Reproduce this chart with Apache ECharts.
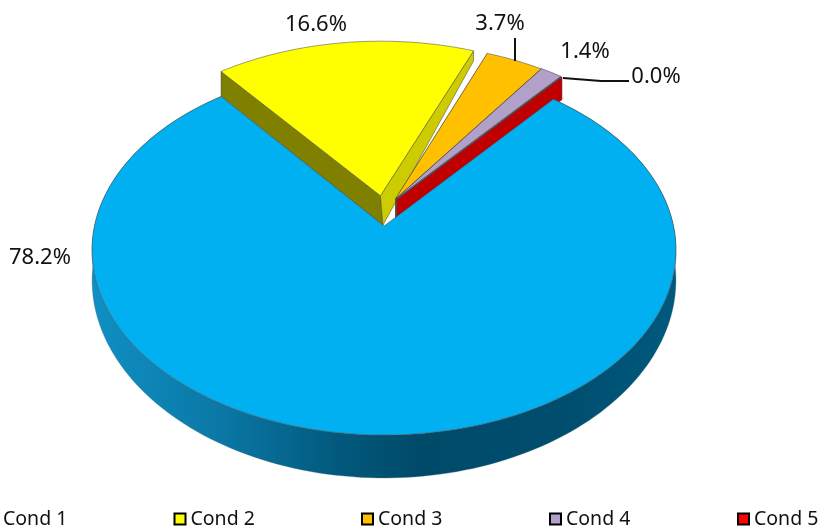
<!DOCTYPE html>
<html><head><meta charset="utf-8">
<style>html,body{margin:0;padding:0;background:#fff}#c{width:820px;height:532px}</style>
<script src="https://cdn.jsdelivr.net/npm/echarts@6/dist/echarts.min.js"></script>
</head><body><div id="c"></div>
<script>
const categories = ['Cond 1','Cond 2','Cond 3','Cond 4','Cond 5'];
const values = [78.2,16.6,3.7,1.4,0.04];
const topColors = ['#00B0F0','#FFFF00','#FFC000','#B1A0C7','#FF0000'];
const wallColors = [null,'#CCCC00','#A07E00','#7F6F9A','#C00000'];
const startWallColors = [null,'#7F7F00','#A07E00','#7F6F9A','#C00000'];
const labelPos = [[40,258],[316,25],[500,24],[585,52],[656,77]];
const leaders = [null,null,[[515,38],[515,61]],null,[[563,78],[601,81],[629,81]]];
const legendLeft = [-14,173.5,361,549,737];
const explodeU = [0,0.086,0.086,0.07,0.07];
const explodeV = [0,0.172,0.172,0.193,0.193];

const FONT = '"Noto Sans",sans-serif', FS = 22;
const CX=384, CY=226, A=181.9, B=289.5, K=0.1297, START=40;
const total = values.reduce((a,b)=>a+b,0);
const rad = d=>d*Math.PI/180;
function proj(u,v){const w=1+K*v;return [CX+B*u/w, CY-A*v/w];}
const thick = v=>29/(1+0.325*v);
let acc=START;
const spans = values.map(v=>{const s=acc;acc+=v/total*360;return [s,acc];});

function sliceShapes(i){
  const [s,e]=spans[i], mid=(s+e)/2;
  const u0 = explodeU[i]*Math.sin(rad(mid));
  const v0 = explodeV[i]*Math.cos(rad(mid));
  const P=(d,off)=>{const u=u0+Math.sin(rad(d)),v=v0+Math.cos(rad(d));const p=proj(u,v);return [p[0],p[1]+(off?thick(v):0)];};
  const apex=proj(u0,v0), apexB=[apex[0],apex[1]+thick(v0)];
  const n=Math.max(4,Math.ceil((e-s)/1.5));
  const arc=[],arcB=[];
  for(let j=0;j<=n;j++){const d=s+(e-s)*j/n;arc.push(P(d,false));arcB.push(P(d,true));}
  const ch=[];
  const edge='rgba(70,70,70,0.75)';
  if(i===0){
    ch.push({type:'polygon',shape:{points:arc.concat(arcB.slice().reverse())},style:{
      fill:{type:'linear',x:92,y:0,x2:676,y2:0,global:true,colorStops:[
        {offset:0,color:'#0F8FC4'},{offset:0.22,color:'#0A78A6'},{offset:0.42,color:'#02597D'},
        {offset:0.56,color:'#004A69'},{offset:0.8,color:'#004D6E'},{offset:1,color:'#005A7E'}]},
      stroke:'rgba(90,110,120,0.5)',lineWidth:0.6}});
  } else {
    const rs=P(s,false), re=P(e,false);
    let rsB=P(s,true), reB=P(e,true), aB=apexB;
    if(i===1){ reB=[re[0],re[1]+10]; rsB=[rs[0],rsB[1]+3]; aB=[apexB[0]+2.5,apexB[1]+2]; }
    ch.push({type:'polygon',shape:{points:[apex,rs,rsB,aB]},style:{fill:startWallColors[i],stroke:edge,lineWidth:0.7}});
    ch.push({type:'polygon',shape:{points:[apex,re,reB,aB]},style:{fill:wallColors[i],stroke:edge,lineWidth:0.7}});
  }
  ch.push({type:'polygon',shape:{points:[apex].concat(arc)},style:{fill:i===4?wallColors[4]:topColors[i],stroke:edge,lineWidth:0.7}});
  return ch;
}

const series = categories.map((name,i)=>({
  name, type:'custom', coordinateSystem:'none', z:i===0?6:1+i, silent:true,
  itemStyle:{color:topColors[i]},
  data:[[values[i]]],
  renderItem:()=>({type:'group',children:sliceShapes(i)})
}));
series.push({
  name:'labels', type:'custom', coordinateSystem:'none', z:10, silent:true,
  data:categories.map((c,i)=>[values[i]]),
  renderItem:(p,api)=>{
    const i=p.dataIndex, ch=[];
    if(leaders[i]) ch.push({type:'polyline',shape:{points:leaders[i]},style:{fill:null,stroke:'#111',lineWidth:2}});
    ch.push({type:'text',style:{text:api.value(0).toFixed(1)+'%',x:labelPos[i][0],y:labelPos[i][1],align:'center',verticalAlign:'middle',font:FS+'px '+FONT,fill:'#111'}});
    return {type:'group',children:ch};
  }
});

const chart = echarts.init(document.getElementById('c'),null,{renderer:'canvas'});
chart.setOption({
  animation:false, backgroundColor:'#fff',
  legend: categories.map((n,i)=>({
    data:[n], left:legendLeft[i], top:509, padding:0, orient:'horizontal', icon:'rect',
    itemWidth:11, itemHeight:11, selectedMode:false,
    itemStyle:{borderColor:'#000',borderWidth:2},
    textStyle:{fontFamily:FONT,fontSize:19.5,color:'#111',padding:0}
  })),
  series
});
</script></body></html>
